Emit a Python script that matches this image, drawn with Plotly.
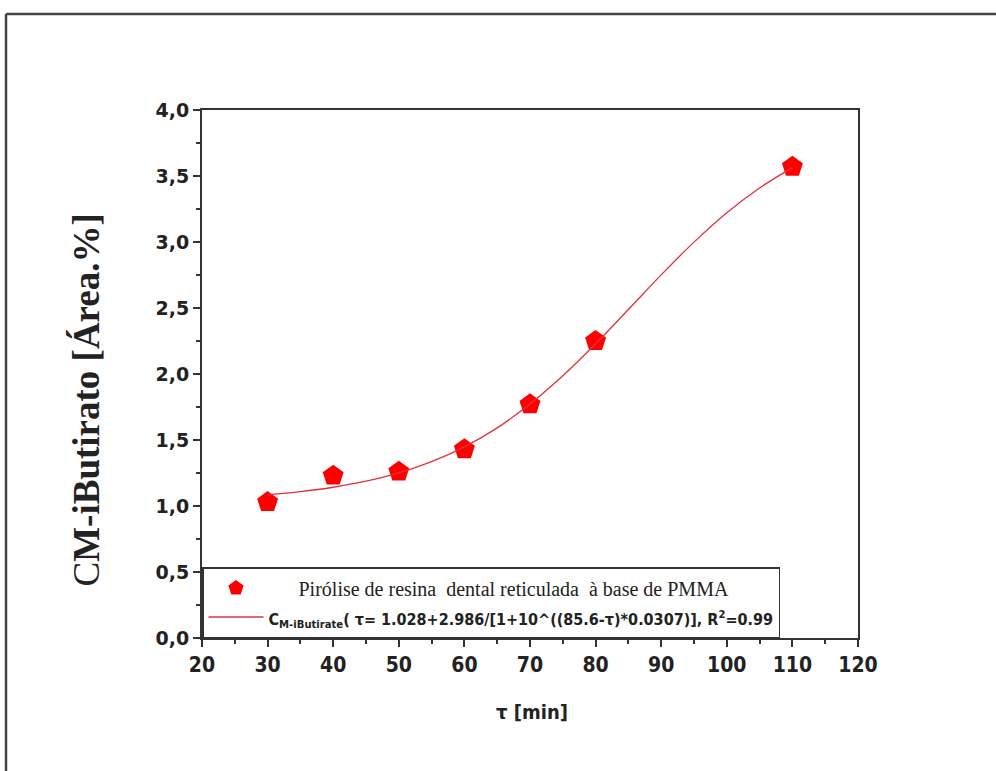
import plotly.graph_objects as go

tau = [30, 40, 50, 60, 70, 80, 110]
conc = [1.03, 1.23, 1.26, 1.43, 1.77, 2.25, 3.57]

# Fitted curve values
fit_tau = [30, 35, 40, 45, 50, 55, 60, 65, 70, 75, 80, 85, 90, 95, 100, 105, 110]
fit_conc = [1.086, 1.109, 1.142, 1.188, 1.251, 1.336, 1.448, 1.592, 1.772, 1.986,
            2.229, 2.489, 2.751, 2.999, 3.222, 3.409, 3.563]

x_ticks = [20, 30, 40, 50, 60, 70, 80, 90, 100, 110, 120]
y_ticks = [0.0, 0.5, 1.0, 1.5, 2.0, 2.5, 3.0, 3.5, 4.0]

W, H = 996, 771
L, R, T, B = 202, 138, 110, 133
pw, ph = W - L - R, H - T - B


def px(xp):
    return (xp - L) / pw


def py(yp):
    return (H - B - yp) / ph


NARROW = "Liberation Sans Narrow, DejaVu Sans Condensed, Roboto Condensed, Liberation Sans"

fig = go.Figure()
fig.add_trace(go.Scatter(
    x=tau, y=conc, mode="markers",
    marker=dict(symbol="pentagon", size=22, color="#ff0000", line=dict(width=0)),
    name="\u00a0\u00a0\u00a0\u00a0\u00a0\u00a0Pirólise de resina\u00a0 dental reticulada\u00a0 à base de PMMA",
))
fig.add_trace(go.Scatter(
    x=fit_tau, y=fit_conc, mode="lines", line=dict(color="#e3303c", width=1.3, shape="spline"),
    name="<span style='font-family:" + NARROW + ";font-weight:bold;font-size:16px'>"
         "C<sub>M-iButirate</sub>( τ= 1.028+2.986/[1+10^((85.6-τ)*0.0307)], R<sup>2</sup>=0.99</span>",
))

axis_common = dict(
    showgrid=False, zeroline=False, showline=True, linecolor="#333333", linewidth=2,
    mirror=True, ticks="outside", ticklen=7, tickwidth=1.5, tickcolor="#333333",
)
fig.update_xaxes(
    range=[20, 120], tickvals=x_ticks, ticktext=[str(v) for v in x_ticks],
    tickfont=dict(family=NARROW, size=21, color="#222", weight="bold"),
    minor=dict(dtick=5, ticks="outside", ticklen=4, tickcolor="#333333", tickwidth=1.5),
    **axis_common,
)
fig.update_yaxes(
    range=[0, 4], tickvals=y_ticks, ticktext=[f"{v:.1f}".replace(".", ",") for v in y_ticks],
    tickfont=dict(family="DejaVu Sans, Liberation Sans", size=19, color="#222", weight="bold"),
    minor=dict(dtick=0.25, ticks="outside", ticklen=4, tickcolor="#333333", tickwidth=1.5),
    **axis_common,
)

fig.update_layout(
    width=W, height=H,
    margin=dict(l=L, r=R, t=T, b=B, autoexpand=False),
    paper_bgcolor="white", plot_bgcolor="white",
    showlegend=True,
    legend=dict(
        x=0, y=0, xanchor="left", yanchor="bottom",
        bgcolor="white", bordercolor="#333333", borderwidth=1.5,
        font=dict(family="Liberation Serif, Times New Roman", size=20, color="#222"),
        tracegroupgap=4, itemwidth=55,
    ),
    annotations=[
        dict(text="<span style='font-weight:normal'>C</span>M-iButirato [Área.%]",
             x=px(63), y=py(400), xref="paper", yref="paper", showarrow=False,
             textangle=-90, font=dict(family="Liberation Serif, Times New Roman", size=37, color="#222", weight="bold")),
        dict(text="τ [min]", x=px(532), y=py(726), xref="paper", yref="paper", showarrow=False,
             font=dict(family=NARROW, size=20, color="#222", weight="bold")),
    ],
    shapes=[
        dict(type="line", xref="paper", yref="paper", x0=px(6), y0=py(771), x1=px(6), y1=py(14),
             line=dict(color="#444444", width=2.5)),
        dict(type="line", xref="paper", yref="paper", x0=px(6), y0=py(14), x1=px(996), y1=py(14),
             line=dict(color="#444444", width=2.5)),
    ],
)

fig.write_html("out.html")
